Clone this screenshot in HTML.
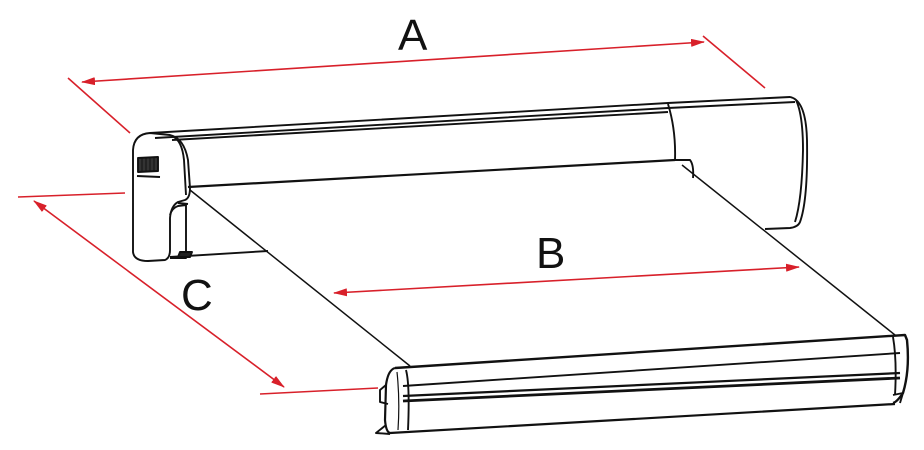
<!DOCTYPE html>
<html><head><style>html,body{margin:0;padding:0;background:#fff}svg{display:block}</style></head>
<body>
<svg width="924" height="450" viewBox="0 0 924 450" xmlns="http://www.w3.org/2000/svg">
<defs>
<marker id="ar" markerWidth="14" markerHeight="8" refX="13" refY="4" orient="auto-start-reverse" markerUnits="userSpaceOnUse">
<path d="M0,0 L14,4 L0,8 Z" fill="#d8202a"/></marker>
</defs>
<g stroke="#d8202a" stroke-width="1.6" fill="none">
<line x1="68" y1="78" x2="130" y2="133"/>
<line x1="703" y1="36" x2="765" y2="88"/>
<line x1="82" y1="82" x2="704" y2="42" marker-start="url(#ar)" marker-end="url(#ar)"/>
<line x1="334" y1="293" x2="799" y2="267" marker-start="url(#ar)" marker-end="url(#ar)"/>
<line x1="18" y1="197" x2="125" y2="193"/>
<line x1="260" y1="394" x2="378" y2="388"/>
<line x1="34" y1="201" x2="284" y2="387" marker-start="url(#ar)" marker-end="url(#ar)"/>
</g>
<g font-family="Liberation Sans, sans-serif" font-size="44" fill="#111">
<text x="398" y="50">A</text>
<text x="536" y="268">B</text>
<text x="181" y="310">C</text>
</g>
<g stroke="#111" stroke-width="1.9" fill="none" stroke-linejoin="round">
<!-- fabric -->
<line x1="190" y1="190" x2="410" y2="366" stroke-width="1.5"/>
<line x1="682" y1="165" x2="895" y2="335" stroke-width="1.5"/>
<!-- lower roller line -->
<line x1="170" y1="257" x2="268" y2="251"/>
<!-- top roller body -->
<path d="M150,133 L668,103 L790,97 Q806,100 807,140 Q808,200 800,222 Q798,227 790,228 L765,229"/>
<path d="M155,138 L668,108 L795,102"/>
<path d="M172,140 L668,112"/>
<path d="M188,187 L675,160" stroke-width="2.2"/>
<path d="M668,104 Q676,130 675,160"/>
<path d="M796,100 Q803,115 803,150 Q802,200 795,222"/>
<path d="M675,160 L690,160 Q694,165 693,178"/>
<!-- left end cap -->
<path d="M150,133 Q134,134 133,150 L133,252 Q134,261 148,261 L165,260 Q170,258 170,250 L170,218 Q171,206 178,202 L185,200 Q190,198 190,188 L188,160 Q184,138 170,135 Z" />
<path d="M172,136 Q182,140 184,160 L186,195"/>
<path d="M170,215 Q172,208 178,206 L186,205 L186,258 L170,258"/>
<path d="M138,158 L158,157 L158,171 L138,172 Z" fill="#333"/>
<g stroke-width="1"><line x1="142" y1="158" x2="142" y2="172"/><line x1="146" y1="158" x2="146" y2="172"/><line x1="150" y1="158" x2="150" y2="172"/><line x1="154" y1="157" x2="154" y2="171"/></g>
<path d="M137,176 L160,177"/>
<line x1="178" y1="203" x2="188" y2="204"/>
<path d="M180,252 L192,252 L190,257 L178,257 Z" fill="#222"/>
<!-- front bar -->
<path d="M395,368 L905,335 L907,340 Q910,370 903,393 Q897,402 893,403" stroke-width="2.4"/>
<path d="M395,368 Q388,370 386,385 L385,420 Q386,432 390,433 L895,404" stroke-width="2.2"/>
<path d="M403,386 L900,353"/>
<path d="M403,396 L900,373" stroke-width="2.2"/>
<path d="M403,401 L900,378" stroke-width="2.8"/>
<path d="M406,370 Q410,385 408,430"/>
<path d="M397,372 Q400,400 398,430" stroke-width="1.2"/>
<path d="M893,337 Q897,360 895,395"/>
<path d="M386,385 L380,390 L380,402 L388,404"/>
<path d="M386,425 L376,433 L390,434"/>
<path d="M893,395 L903,393 L900,403"/>
</g>
</svg>
</body></html>
